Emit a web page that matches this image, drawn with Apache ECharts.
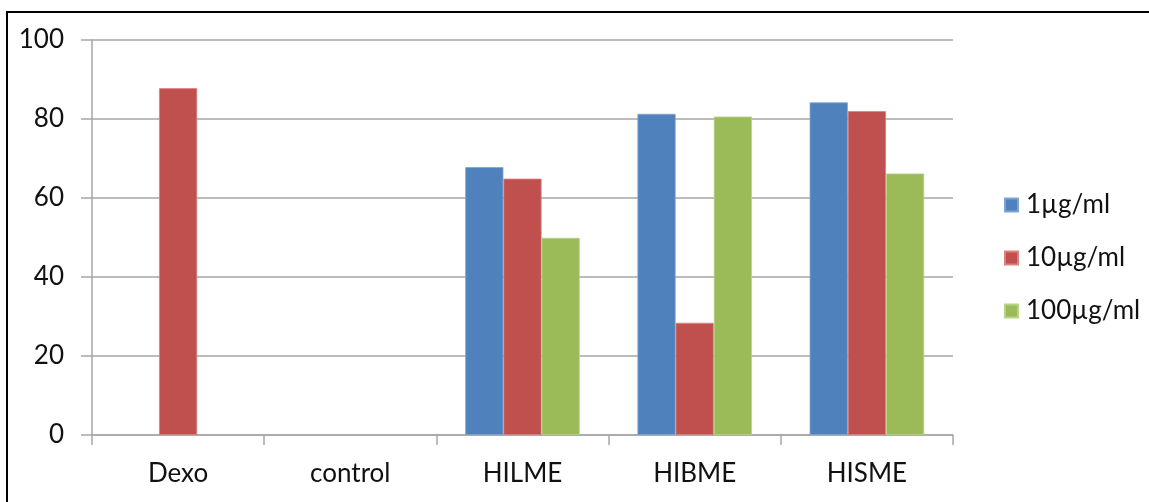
<!DOCTYPE html>
<html>
<head>
<meta charset="utf-8">
<script src="https://cdn.jsdelivr.net/npm/echarts@6/dist/echarts.min.js"></script>
<style>
  html, body { margin: 0; padding: 0; background: #ffffff; }
  #chart { width: 1149px; height: 502px; }
</style>
</head>
<body>
<div id="chart"></div>
<script>
// Categories along the x axis
const categories = ['Dexo', 'control', 'HILME', 'HIBME', 'HISME'];

// Concentration series (null = no bar drawn)
const seriesNames = ['1\u00b5g/ml', '10\u00b5g/ml', '100\u00b5g/ml'];
const values1 = [null, null, 67.8, 81.3, 84.2];
const values10 = [87.8, null, 64.9, 28.4, 82.0];
const values100 = [null, null, 49.9, 80.6, 66.2];

// Y axis ticks
const yMin = 0;
const yMax = 100;
const yStep = 20;

const colors = ['#4F81BD', '#C0504D', '#9BBB59'];
const edges = ['#7FA3D3', '#D98280', '#B8D385'];
const font = 'Lato, "Liberation Sans", sans-serif';
const gridGray = '#A6A6A6';
const labelSize = 26;

const chart = echarts.init(document.getElementById('chart'), null, { renderer: 'canvas' });

const seriesData = [values1, values10, values100];

chart.setOption({
  animation: false,
  backgroundColor: '#ffffff',
  textStyle: { fontFamily: font },
  grid: { left: 92, right: 196, top: 40, bottom: 67, containLabel: false },
  legend: {
    orient: 'vertical',
    left: 999,
    top: 187,
    itemWidth: 13,
    itemHeight: 13,
    itemGap: 27,
    icon: 'rect',
    textStyle: { fontFamily: font, fontSize: labelSize, color: '#111111', padding: [0, 0, 0, 3] },
    data: seriesNames
  },
  xAxis: {
    type: 'category',
    data: categories,
    axisLine: { show: true, lineStyle: { color: gridGray, width: 1.5 } },
    axisTick: { show: true, length: 10, lineStyle: { color: gridGray, width: 1.5 } },
    axisLabel: { fontFamily: font, fontSize: labelSize, color: '#111111', margin: 26 },
    splitLine: { show: false }
  },
  yAxis: {
    type: 'value',
    min: yMin,
    max: yMax,
    interval: yStep,
    axisLine: { show: true, lineStyle: { color: gridGray, width: 1.5 } },
    axisTick: { show: true, length: 11, lineStyle: { color: gridGray, width: 1.5 } },
    axisLabel: { fontFamily: font, fontSize: labelSize, color: '#111111', margin: 28 },
    splitLine: { show: true, lineStyle: { color: gridGray, width: 1.5 } }
  },
  graphic: [
    {
      type: 'polyline',
      shape: { points: [[7, 502], [7, 12], [1149, 12]] },
      style: { stroke: '#000000', lineWidth: 2, fill: null },
      silent: true
    }
  ],
  series: seriesNames.map((name, i) => ({
    name: name,
    type: 'bar',
    data: seriesData[i],
    barGap: '0%',
    barCategoryGap: '33.5%',
    itemStyle: { color: colors[i], borderColor: edges[i], borderWidth: 0.8 },
    emphasis: { disabled: true }
  }))
});
</script>
</body>
</html>
